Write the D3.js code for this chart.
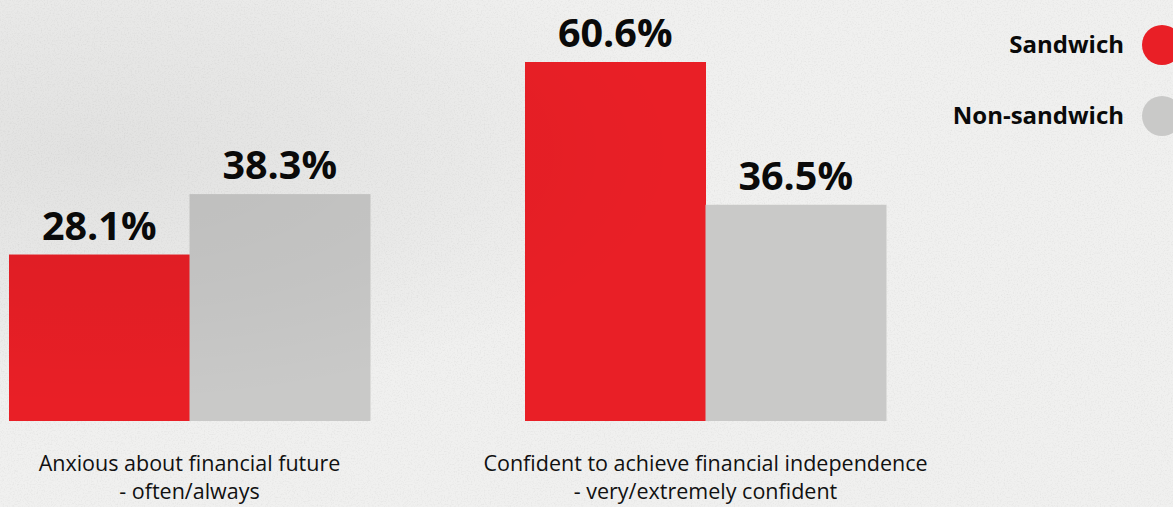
<!DOCTYPE html>
<html>
<head>
<meta charset="utf-8">
<script src="https://cdn.jsdelivr.net/npm/d3@7"></script>
<style>
  html, body { margin: 0; padding: 0; background: #efefee; }
  svg { display: block; font-family: "Open Sans", "Noto Sans", sans-serif; }
</style>
</head>
<body>
<svg id="chart" width="1173" height="507"></svg>
<script>
// Survey groups and their shares (%)
const categories = [
  ["Anxious about financial future", "- often/always"],
  ["Confident to achieve financial independence", "- very/extremely confident"]
];
const seriesNames = ["Sandwich", "Non-sandwich"];
const sandwich = [28.1, 60.6];
const nonSandwich = [38.3, 36.5];
const colors = ["#e91f26", "#c9c9c8"];

const width = 1173, height = 507;
const svg = d3.select("#chart");

// Paper-like background texture
const defs = svg.append("defs");
const noise = defs.append("filter").attr("id", "paper").attr("x", 0).attr("y", 0).attr("width", "100%").attr("height", "100%");
noise.append("feTurbulence").attr("type", "fractalNoise").attr("baseFrequency", 0.7).attr("numOctaves", 3).attr("seed", 7).attr("result", "n");
noise.append("feColorMatrix").attr("type", "matrix")
  .attr("values", "0 0 0 0 0  0 0 0 0 0  0 0 0 0 0  0 0 0 -1.8 1.0");
const shade = defs.append("radialGradient").attr("id", "shade").attr("cx", "0.08").attr("cy", "0.3").attr("r", "0.5");
shade.append("stop").attr("offset", "0").attr("stop-color", "#000").attr("stop-opacity", 0.06);
shade.append("stop").attr("offset", "0.6").attr("stop-color", "#000").attr("stop-opacity", 0.03);
shade.append("stop").attr("offset", "1").attr("stop-color", "#000").attr("stop-opacity", 0);

svg.append("rect").attr("width", width).attr("height", height).attr("fill", "#f0f0ef");
svg.append("rect").attr("width", width).attr("height", height).attr("filter", "url(#paper)").attr("opacity", 0.05);

const data = categories.map((c, i) => ({ label: c, values: [sandwich[i], nonSandwich[i]] }));

// Layout: two groups of 361px separated by a 155px gap
const baseY = 421, topY = 62;
const groupW = 361, gap = 155;
const x0 = d3.scaleBand().domain(d3.range(categories.length))
  .range([9, 9 + groupW * 2 + gap]).paddingInner(gap / (groupW + gap)).paddingOuter(0);
const x1 = d3.scaleBand().domain(d3.range(seriesNames.length)).range([0, x0.bandwidth()]).padding(0);
const y = d3.scaleLinear().domain([0, d3.max([...sandwich, ...nonSandwich])]).range([baseY, topY]);

const groups = svg.append("g").selectAll("g").data(data).join("g")
  .attr("transform", (d, i) => `translate(${x0(i)},0)`);

groups.selectAll("rect").data(d => d.values).join("rect")
  .attr("x", (v, j) => x1(j))
  .attr("y", v => y(v))
  .attr("width", x1.bandwidth() + 0.5)
  .attr("height", v => baseY - y(v))
  .attr("fill", (v, j) => colors[j]);

groups.selectAll("text.val").data(d => d.values).join("text")
  .attr("class", "val")
  .attr("x", (v, j) => x1(j) + x1.bandwidth() / 2)
  .attr("y", v => y(v) - 15)
  .attr("text-anchor", "middle")
  .attr("font-size", 39.5)
  .attr("font-weight", 700)
  .attr("fill", "#0a0a0a")
  .text(v => v.toFixed(1) + "%");

// Two-line category captions under each group
groups.each(function (d) {
  d.label.forEach((line, k) => {
    d3.select(this).append("text")
      .attr("x", x0.bandwidth() / 2)
      .attr("y", 471 + k * 28)
      .attr("text-anchor", "middle")
      .attr("font-size", 21.5)
      .attr("fill", "#111")
      .text(line);
  });
});

// Legend
const legend = svg.append("g").selectAll("g").data(seriesNames).join("g")
  .attr("transform", (d, i) => `translate(0,${45 + i * 71})`);
legend.append("circle").attr("cx", 1162).attr("cy", 0).attr("r", 20).attr("fill", (d, i) => colors[i]);
legend.append("text").attr("x", 1124).attr("y", 0).attr("dy", "0.35em")
  .attr("text-anchor", "end").attr("font-size", 24).attr("font-weight", 700).attr("fill", "#0a0a0a")
  .text(d => d);

// Soft shadowing on the left side of the sheet
svg.append("rect").attr("width", width).attr("height", height).attr("fill", "url(#shade)").style("pointer-events", "none");
</script>
</body>
</html>
